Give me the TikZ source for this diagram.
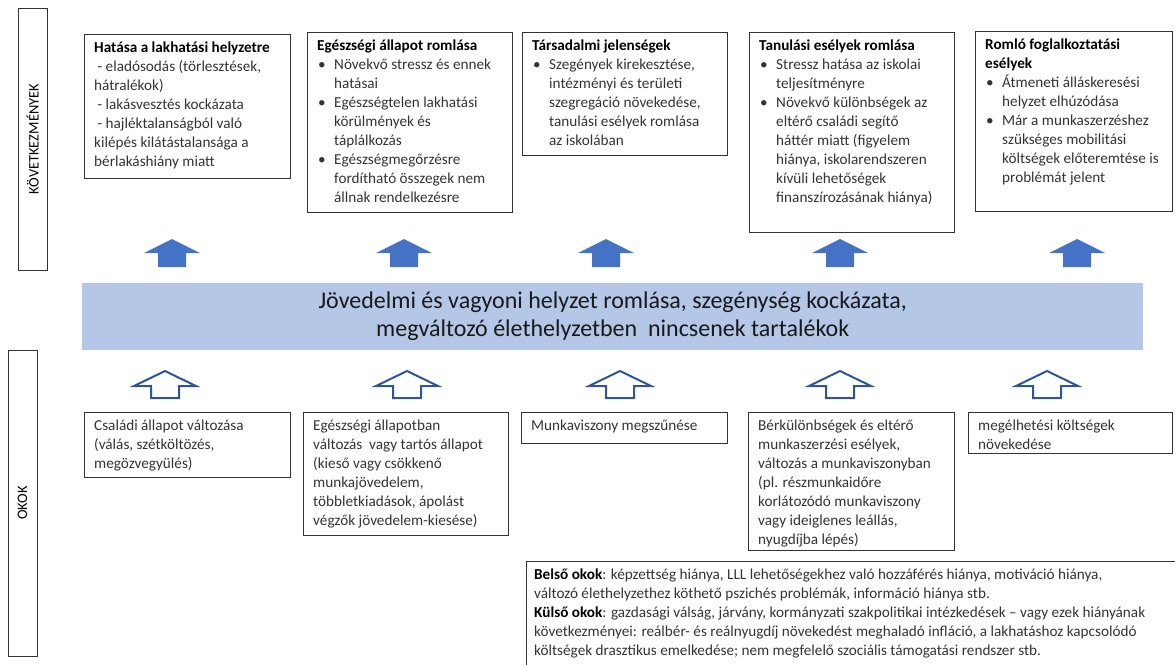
\documentclass[tikz,border=0pt]{standalone}
\usepackage{fontspec}
\setmainfont{Carlito}
\definecolor{upblue}{HTML}{4472C4}
\definecolor{lineblue}{HTML}{2F5597}
\definecolor{bandblue}{HTML}{B4C7E7}
\newcommand\boxtitle[1]{{\color{black}\bfseries #1}}
\newcommand\bitem{\makebox[17pt][l]{\hspace{1pt}\textbullet}}
\newcommand\bcont{\hspace*{17pt}}
\tikzset{
  panel/.style={draw=black!80,line width=1pt,anchor=north west,inner sep=0pt},
  boxtext/.style={anchor=north west,align=left,inner xsep=10pt,inner ysep=8pt,text=black!80,
    font=\fontsize{15.2}{18.9}\selectfont},
  sidebox/.style={draw=black!80,line width=1pt,rotate=90,minimum height=29pt,inner sep=0pt,
    font=\fontsize{14.5}{16}\selectfont},
  filledup/.style={fill=upblue},
  hollowup/.style={draw=lineblue,line width=2pt,fill=white,line join=miter}
}
\begin{document}
\begin{tikzpicture}[x=1pt,y=-1pt]
\useasboundingbox (0,0) rectangle (1175,664);
% side labels
\node[sidebox,minimum width=262pt] (kov) at (32.5,139) {KÖVETKEZMÉNYEK};
\node[sidebox,minimum width=306pt] (okok) at (22.5,503) {OKOK};

% consequences
\node[panel,minimum width=206pt,minimum height=144pt] (eff1) at (84,34) {};
\node[panel,minimum width=205pt,minimum height=180pt] (eff2) at (307,32) {};
\node[panel,minimum width=205pt,minimum height=123pt] (eff3) at (522,32) {};
\node[panel,minimum width=205pt,minimum height=200pt] (eff4) at (749,32) {};
\node[panel,minimum width=197pt,minimum height=180pt] (eff5) at (975,31) {};
\node[boxtext] (eff1t) at (eff1.north west) {\boxtitle{Hatása a lakhatási helyzetre}\\
  \ - eladósodás (törlesztések,\\hátralékok)\\
  \ - lakásvesztés kockázata\\
  \ - hajléktalanságból való\\kilépés kilátástalansága a\\bérlakáshiány miatt};
\node[boxtext] (eff2t) at (eff2.north west) {\boxtitle{Egészségi állapot romlása}\\
  \bitem Növekvő stressz és ennek\\\bcont hatásai\\
  \bitem Egészségtelen lakhatási\\\bcont körülmények és\\\bcont táplálkozás\\
  \bitem Egészségmegőrzésre\\\bcont fordítható összegek nem\\\bcont állnak rendelkezésre};
\node[boxtext] (eff3t) at (eff3.north west) {\boxtitle{Társadalmi jelenségek}\\
  \bitem Szegények kirekesztése,\\\bcont intézményi és területi\\\bcont szegregáció növekedése,\\
  \bcont tanulási esélyek romlása\\\bcont az iskolában};
\node[boxtext] (eff4t) at (eff4.north west) {\boxtitle{Tanulási esélyek romlása}\\
  \bitem Stressz hatása az iskolai\\\bcont teljesítményre\\
  \bitem Növekvő különbségek az\\\bcont eltérő családi segítő\\\bcont háttér miatt (figyelem\\
  \bcont hiánya, iskolarendszeren\\\bcont kívüli lehetőségek\\\bcont finanszírozásának hiánya)};
\node[boxtext] (eff5t) at (eff5.north west) {\boxtitle{Romló foglalkoztatási}\\\boxtitle{esélyek}\\
  \bitem Átmeneti álláskeresési\\\bcont helyzet elhúzódása\\
  \bitem Már a munkaszerzéshez\\\bcont szükséges mobilitási\\\bcont költségek előteremtése is\\
  \bcont problémát jelent};

% arrows
\foreach \x in {172,404,606,840,1077}
  \fill[filledup] (\x,239) -- (\x+28,253) -- (\x+14,253) -- (\x+14,267) -- (\x-14,267)
    -- (\x-14,253) -- (\x-28,253) -- cycle;
\foreach \x in {165,407,620,840,1047}
  \draw[hollowup] (\x,371) -- (\x+31,386) -- (\x+14,386) -- (\x+14,398) -- (\x-14,398)
    -- (\x-14,386) -- (\x-31,386) -- cycle;

% central band
\node[fill=bandblue,anchor=north west,minimum width=1061pt,minimum height=67pt,align=center,
  text=black!90,font=\fontsize{24}{28}\selectfont] (band) at (82,283)
  {Jövedelmi és vagyoni helyzet romlása, szegénység kockázata,\\megváltozó élethelyzetben\ \ nincsenek tartalékok};

% causes
\node[panel,minimum width=206pt,minimum height=65pt] (cause1) at (84,412) {};
\node[panel,minimum width=205pt,minimum height=123pt] (cause2) at (303,412) {};
\node[panel,minimum width=206pt,minimum height=31pt] (cause3) at (521,412) {};
\node[panel,minimum width=206pt,minimum height=138pt] (cause4) at (748,412) {};
\node[panel,minimum width=204pt,minimum height=41pt] (cause5) at (968,412) {};
\node[boxtext] (cause1t) at (cause1.north west) {Családi állapot változása\\(válás, szétköltözés,\\megözvegyülés)};
\node[boxtext] (cause2t) at (cause2.north west) {Egészségi állapotban\\változás\ \ vagy tartós állapot\\
  (kieső vagy csökkenő\\munkajövedelem,\\többletkiadások, ápolást\\végzők jövedelem-kiesése)};
\node[boxtext] (cause3t) at (cause3.north west) {Munkaviszony megszűnése};
\node[boxtext] (cause4t) at (cause4.north west) {Bérkülönbségek és eltérő\\munkaszerzési esélyek,\\
  változás a munkaviszonyban\\(pl. részmunkaidőre\\korlátozódó munkaviszony\\vagy ideiglenes leállás,\\nyugdíjba lépés)};
\node[boxtext] (cause5t) at (cause5.north west) {megélhetési költségek\\növekedése};

% internal and external reasons
\node[panel,minimum width=700pt,minimum height=120pt] (note) at (526,561) {};
\node[boxtext,inner xsep=8pt] (notet) at (note.north west) {\boxtitle{Belső okok}: képzettség hiánya, LLL lehetőségekhez való hozzáférés hiánya, motiváció hiánya,\\
  változó élethelyzethez köthető pszichés problémák, információ hiánya stb.\\
  \boxtitle{Külső okok}: gazdasági válság, járvány, kormányzati szakpolitikai intézkedések – vagy ezek hiányának\\
  következményei: reálbér- és reálnyugdíj növekedést meghaladó infláció, a lakhatáshoz kapcsolódó\\
  költségek drasztikus emelkedése; nem megfelelő szociális támogatási rendszer stb.};
\end{tikzpicture}
\end{document}
